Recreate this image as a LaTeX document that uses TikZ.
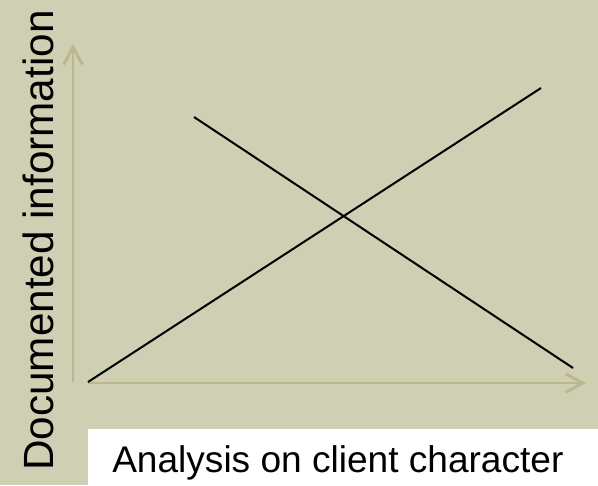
\documentclass[tikz,border=0pt]{standalone}
\usepackage{fontspec}
\setmainfont{Liberation Sans}
\usetikzlibrary{arrows.meta}
\definecolor{bg}{RGB}{207,207,180}
\definecolor{axis}{RGB}{190,182,140}
\begin{document}
\begin{tikzpicture}[x=0.75pt,y=-0.75pt,
  axisline/.style={draw=axis,line width=2.2pt,-{Straight Barb[length=13pt,width=14pt,line width=2.2pt]}},
  trendline/.style={draw=black,line width=1.5pt},
  lbl/.style={inner sep=0pt,font=\fontsize{27.8pt}{30pt}\selectfont}]
\fill[bg] (0,0) rectangle (598,485);
\useasboundingbox (0,0) rectangle (598,485);
\fill[white] (88,429) rectangle (598,485);
\coordinate (yaxs) at (73,382);
\coordinate (yaxe) at (73,44);
\coordinate (xaxs) at (88,383);
\coordinate (xaxe) at (586,383);
\draw[axisline] (yaxs) -- (yaxe);
\draw[axisline] (xaxs) -- (xaxe);
\coordinate (a1) at (88,382);
\coordinate (a2) at (541,88);
\coordinate (b1) at (194,117);
\coordinate (b2) at (573,368);
\draw[trendline] (a1) -- (a2);
\draw[trendline] (b1) -- (b2);
\node[lbl,anchor=base west] (xlab) at (112,472) {Analysis on client character};
\node[lbl,anchor=base west,rotate=90,font=\fontsize{31.7pt}{34pt}\selectfont] (ylab) at (53.5,471) {Documented information};
\end{tikzpicture}
\end{document}
